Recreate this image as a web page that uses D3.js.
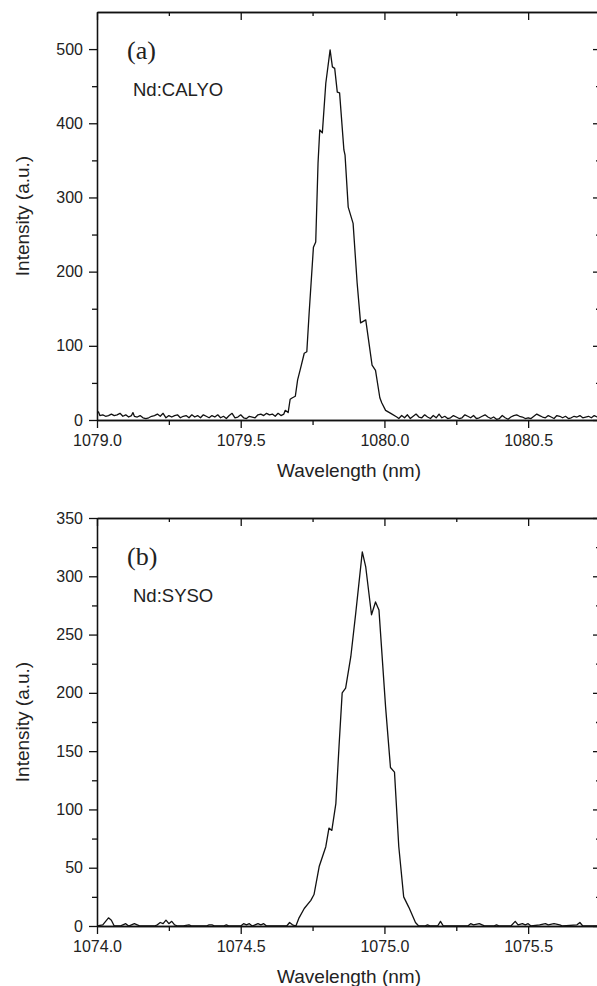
<!DOCTYPE html>
<html>
<head>
<meta charset="utf-8">
<title>Laser spectra</title>
<style>
  html, body { margin: 0; padding: 0; background: #fff; }
  svg { display: block; overflow: hidden; }
  .tick text { font-family: "Liberation Sans", Arial, sans-serif; font-size: 16px; fill: #222; }
  .axis path, .axis line { stroke: #111; stroke-width: 1.3; }
  .title { font-family: "Liberation Sans", Arial, sans-serif; font-size: 19px; fill: #222; }
  .sample { font-family: "Liberation Sans", Arial, sans-serif; font-size: 18.5px; fill: #222; }
  .tag { font-family: "Liberation Serif", "Times New Roman", serif; font-size: 26px; fill: #222; }
</style>
</head>
<body>
<div id="chart"></div>
<script src="https://cdn.jsdelivr.net/npm/d3@7"></script>
<script>
// (a) Nd:CALYO, [wavelength nm, intensity a.u.]
var spectrumA = [
  [1079.000, 9], [1079.005, 11], [1079.010, 6], [1079.020, 7], [1079.030, 5], [1079.040, 6],
  [1079.050, 8], [1079.060, 6], [1079.070, 7], [1079.080, 9], [1079.090, 5], [1079.100, 7],
  [1079.110, 4], [1079.120, 6], [1079.125, 10], [1079.130, 5], [1079.140, 4], [1079.150, 6],
  [1079.160, 3], [1079.170, 2], [1079.180, 3], [1079.190, 5], [1079.200, 6], [1079.210, 8],
  [1079.220, 5], [1079.230, 9], [1079.240, 3], [1079.250, 6], [1079.260, 4], [1079.270, 6],
  [1079.280, 7], [1079.290, 3], [1079.300, 5], [1079.310, 6], [1079.320, 3], [1079.330, 7],
  [1079.340, 4], [1079.350, 6], [1079.360, 3], [1079.370, 7], [1079.380, 5], [1079.390, 3],
  [1079.400, 6], [1079.410, 4], [1079.420, 7], [1079.430, 3], [1079.440, 5], [1079.450, 2],
  [1079.460, 6], [1079.470, 9], [1079.480, 3], [1079.490, 4], [1079.500, 7], [1079.510, 3],
  [1079.520, 2], [1079.530, 5], [1079.540, 4], [1079.550, 3], [1079.560, 7], [1079.570, 8],
  [1079.580, 6], [1079.590, 9], [1079.600, 7], [1079.610, 8], [1079.620, 5], [1079.630, 9],
  [1079.640, 6], [1079.650, 8], [1079.655, 13], [1079.665, 10], [1079.672, 28], [1079.680, 30],
  [1079.690, 32], [1079.698, 54], [1079.709, 71], [1079.721, 90], [1079.730, 92], [1079.738, 144],
  [1079.753, 233], [1079.761, 240], [1079.769, 346], [1079.775, 391], [1079.784, 387], [1079.796, 454],
  [1079.811, 499], [1079.819, 476], [1079.827, 474], [1079.836, 442], [1079.844, 441], [1079.859, 364],
  [1079.863, 357], [1079.874, 287], [1079.891, 265], [1079.905, 185], [1079.917, 131], [1079.935, 135],
  [1079.957, 74], [1079.969, 67], [1079.984, 30], [1079.991, 23], [1080.004, 13], [1080.022, 9],
  [1080.043, 4], [1080.050, 2], [1080.060, 6], [1080.070, 3], [1080.080, 7], [1080.090, 2],
  [1080.100, 5], [1080.110, 8], [1080.120, 4], [1080.130, 3], [1080.140, 7], [1080.150, 4],
  [1080.160, 2], [1080.170, 6], [1080.180, 3], [1080.190, 8], [1080.200, 3], [1080.210, 5],
  [1080.220, 2], [1080.230, 3], [1080.240, 6], [1080.250, 4], [1080.260, 2], [1080.270, 3],
  [1080.280, 7], [1080.290, 5], [1080.300, 3], [1080.310, 6], [1080.320, 2], [1080.330, 3],
  [1080.340, 5], [1080.350, 7], [1080.360, 4], [1080.370, 2], [1080.380, 4], [1080.390, 1],
  [1080.400, 2], [1080.410, 6], [1080.420, 3], [1080.430, 1], [1080.440, 4], [1080.450, 6],
  [1080.460, 7], [1080.470, 5], [1080.480, 4], [1080.490, 2], [1080.500, 3], [1080.510, 2],
  [1080.520, 5], [1080.530, 8], [1080.540, 6], [1080.550, 4], [1080.560, 3], [1080.570, 6],
  [1080.580, 4], [1080.590, 2], [1080.600, 6], [1080.610, 5], [1080.620, 3], [1080.630, 5],
  [1080.640, 2], [1080.650, 3], [1080.660, 5], [1080.670, 4], [1080.680, 6], [1080.690, 3],
  [1080.700, 4], [1080.710, 5], [1080.720, 3], [1080.730, 6], [1080.740, 4], [1080.750, 5]
];

// (b) Nd:SYSO
var spectrumB = [
  [1074.000, 0], [1074.020, 1], [1074.030, 4], [1074.040, 7], [1074.050, 5], [1074.060, 0],
  [1074.080, 0], [1074.090, 1], [1074.100, 2], [1074.110, 0], [1074.120, 1], [1074.130, 2],
  [1074.140, 1], [1074.150, 0], [1074.200, 0], [1074.210, 1], [1074.220, 3], [1074.230, 2],
  [1074.240, 5], [1074.250, 2], [1074.260, 4], [1074.270, 1], [1074.280, 0], [1074.300, 0],
  [1074.320, 1], [1074.330, 0], [1074.380, 0], [1074.390, 1], [1074.400, 1], [1074.410, 0],
  [1074.440, 0], [1074.450, 1], [1074.460, 0], [1074.500, 0], [1074.510, 2], [1074.520, 1],
  [1074.530, 2], [1074.540, 0], [1074.550, 1], [1074.560, 2], [1074.570, 1], [1074.580, 2],
  [1074.590, 0], [1074.660, 0], [1074.670, 3], [1074.680, 1], [1074.692, 0], [1074.703, 7],
  [1074.721, 15], [1074.744, 22], [1074.755, 27], [1074.773, 51], [1074.796, 68], [1074.807, 84],
  [1074.817, 82], [1074.831, 105], [1074.842, 154], [1074.853, 200], [1074.865, 204], [1074.883, 231],
  [1074.900, 268], [1074.923, 321], [1074.935, 308], [1074.955, 267], [1074.969, 278], [1074.981, 271],
  [1075.004, 188], [1075.021, 136], [1075.035, 132], [1075.050, 68], [1075.067, 25], [1075.085, 16],
  [1075.108, 3], [1075.119, 0], [1075.140, 0], [1075.150, 1], [1075.160, 0], [1075.185, 0],
  [1075.195, 4], [1075.205, 0], [1075.290, 0], [1075.300, 2], [1075.310, 1], [1075.330, 2],
  [1075.340, 1], [1075.350, 0], [1075.380, 0], [1075.390, 1], [1075.400, 0], [1075.440, 0],
  [1075.455, 4], [1075.465, 1], [1075.480, 2], [1075.490, 1], [1075.500, 2], [1075.510, 0],
  [1075.540, 1], [1075.560, 2], [1075.570, 1], [1075.590, 2], [1075.610, 1], [1075.620, 0],
  [1075.670, 1], [1075.680, 3], [1075.690, 0], [1075.750, 0]
];

var xMajorA = [1079.0, 1079.5, 1080.0, 1080.5];
var xMinorA = [1079.25, 1079.75, 1080.25];
var yMajorA = [0, 100, 200, 300, 400, 500];
var yMinorA = [50, 150, 250, 350, 450];

var xMajorB = [1074.0, 1074.5, 1075.0, 1075.5];
var xMinorB = [1074.25, 1074.75, 1075.25];
var yMajorB = [0, 50, 100, 150, 200, 250, 300, 350];
var yMinorB = [25, 75, 125, 175, 225, 275, 325];

var width = 597, height = 986;
var svg = d3.select("#chart").append("svg")
  .attr("width", width)
  .attr("height", height);

function panel(cfg) {
  var left = 97, right = 600;
  var x = d3.scaleLinear().domain(cfg.xDomain).range([left, right]);
  var y = d3.scaleLinear().domain(cfg.yDomain).range([cfg.bottom, cfg.top]);
  var g = svg.append("g");

  g.append("clipPath").attr("id", cfg.id)
    .append("rect")
    .attr("x", left).attr("y", cfg.top)
    .attr("width", right - left).attr("height", cfg.bottom - cfg.top);

  var fmtX = d3.format(".1f");

  // bottom + left with labels, outward ticks
  g.append("g").attr("class", "axis")
    .attr("transform", "translate(0," + cfg.bottom + ")")
    .call(d3.axisBottom(x).tickValues(cfg.xMajor).tickSize(8).tickSizeOuter(0).tickPadding(7).tickFormat(fmtX));
  g.append("g").attr("class", "axis")
    .attr("transform", "translate(0," + cfg.bottom + ")")
    .call(d3.axisBottom(x).tickValues(cfg.xMinor).tickSize(5).tickSizeOuter(0).tickFormat(""));
  g.append("g").attr("class", "axis")
    .attr("transform", "translate(" + left + ",0)")
    .call(d3.axisLeft(y).tickValues(cfg.yMajor).tickSize(8).tickSizeOuter(0).tickPadding(6));
  g.append("g").attr("class", "axis")
    .attr("transform", "translate(" + left + ",0)")
    .call(d3.axisLeft(y).tickValues(cfg.yMinor).tickSize(5).tickSizeOuter(0).tickFormat(""));

  // top + right mirror, inward ticks
  g.append("g").attr("class", "axis")
    .attr("transform", "translate(0," + cfg.top + ")")
    .call(d3.axisTop(x).tickValues(cfg.xMajor).tickSize(-8).tickSizeOuter(0).tickFormat(""));
  g.append("g").attr("class", "axis")
    .attr("transform", "translate(0," + cfg.top + ")")
    .call(d3.axisTop(x).tickValues(cfg.xMinor).tickSize(-4).tickSizeOuter(0).tickFormat(""));
  g.append("g").attr("class", "axis")
    .attr("transform", "translate(" + right + ",0)")
    .call(d3.axisRight(y).tickValues(cfg.yMajor).tickSize(-7).tickSizeOuter(0).tickFormat(""));
  g.append("g").attr("class", "axis")
    .attr("transform", "translate(" + right + ",0)")
    .call(d3.axisRight(y).tickValues(cfg.yMinor).tickSize(-4).tickSizeOuter(0).tickFormat(""));

  var line = d3.line()
    .x(function(d) { return x(d[0]); })
    .y(function(d) { return y(d[1]); });

  g.append("path")
    .datum(cfg.data)
    .attr("clip-path", "url(#" + cfg.id + ")")
    .attr("d", line)
    .attr("fill", "none")
    .attr("stroke", "#111")
    .attr("stroke-width", 1.3)
    .attr("stroke-linejoin", "round");

  g.append("text").attr("class", "tag")
    .attr("x", 127).attr("y", cfg.top + 47)
    .text(cfg.tag);
  g.append("text").attr("class", "sample")
    .attr("x", 133).attr("y", cfg.top + 84)
    .text(cfg.sample);

  g.append("text").attr("class", "title")
    .attr("x", 349).attr("y", cfg.bottom + 57)
    .attr("text-anchor", "middle")
    .text("Wavelength (nm)");
  g.append("text").attr("class", "title")
    .attr("transform", "translate(29," + (cfg.top + cfg.bottom) / 2 + ") rotate(-90)")
    .attr("text-anchor", "middle")
    .text("Intensity (a.u.)");
}

panel({
  id: "clipA", data: spectrumA, tag: "(a)", sample: "Nd:CALYO",
  xDomain: [1079, 1080.75], yDomain: [0, 550], top: 12, bottom: 420,
  xMajor: xMajorA, xMinor: xMinorA, yMajor: yMajorA, yMinor: yMinorA
});
panel({
  id: "clipB", data: spectrumB, tag: "(b)", sample: "Nd:SYSO",
  xDomain: [1074, 1075.75], yDomain: [0, 350], top: 518, bottom: 926,
  xMajor: xMajorB, xMinor: xMinorB, yMajor: yMajorB, yMinor: yMinorB
});
</script>
</body>
</html>
